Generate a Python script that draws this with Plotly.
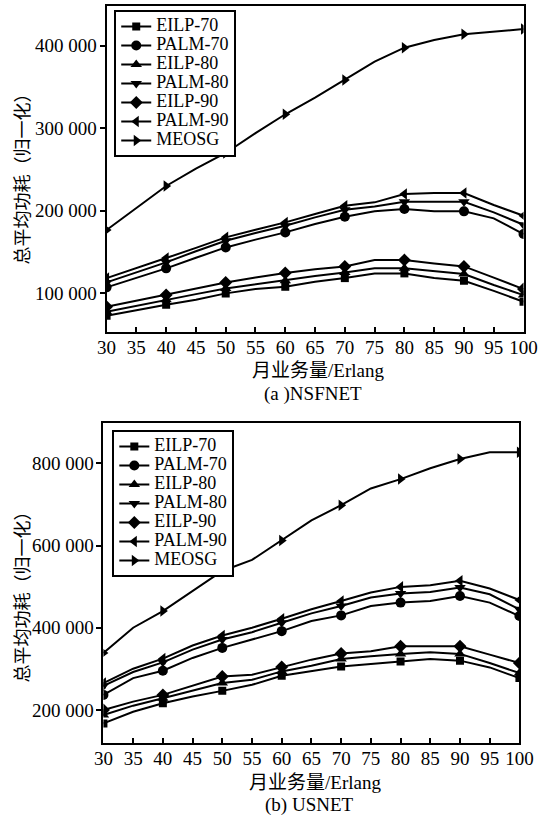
import plotly.graph_objects as go

# ---------------- data ----------------
X = [30, 35, 40, 45, 50, 55, 60, 65, 70, 75, 80, 85, 90, 95, 100]
MARKED_X = [30, 40, 50, 60, 70, 80, 90, 100]
SERIES = ["EILP-70", "PALM-70", "EILP-80", "PALM-80", "EILP-90", "PALM-90", "MEOSG"]
SYMBOLS = ["square", "circle", "triangle-up", "triangle-down", "diamond", "triangle-left", "triangle-right"]
SIZES = [8, 10, 10, 10, 10, 10, 10]

# (a) NSFNET
NSF_EILP70 = [72700, 79600, 86100, 92100, 99900, 105100, 107900, 113900, 118400, 124100, 124100, 118400, 115200, 103000, 89700]
NSF_PALM70 = [107200, 119000, 130200, 143000, 155600, 165000, 173800, 184000, 192700, 199300, 202100, 199300, 199300, 190800, 171800]
NSF_EILP80 = [77600, 85000, 92100, 99000, 105900, 111000, 115200, 121000, 125300, 130200, 130200, 127000, 123300, 110000, 97800]
NSF_PALM80 = [113200, 125000, 137500, 151000, 163600, 173000, 181800, 192000, 201200, 205300, 210900, 210900, 210900, 198000, 183000]
NSF_EILP90 = [83600, 91000, 97800, 106000, 113200, 119000, 124500, 129000, 132600, 140200, 140200, 136000, 132600, 119000, 105100]
NSF_PALM90 = [118400, 131000, 142700, 155000, 167800, 177000, 185900, 196000, 206100, 210200, 220200, 221400, 221400, 207000, 193900]
NSF_MEOSG = [176600, 203000, 230000, 251000, 270000, 294000, 316900, 337000, 358400, 380600, 397600, 406900, 413800, 417000, 420200]

# (b) USNET
US_EILP70 = [167400, 195800, 216400, 232600, 246500, 261200, 283200, 293800, 306000, 311900, 318200, 324100, 320000, 303500, 277600]
US_PALM70 = [236700, 277600, 295500, 326600, 351000, 371400, 391700, 416200, 430100, 452900, 461200, 465100, 477400, 461200, 428400]
US_EILP80 = [187800, 210500, 228600, 246500, 265400, 273400, 293800, 307700, 324100, 330500, 336400, 340300, 336400, 314300, 289800]
US_PALM80 = [258800, 292300, 315800, 346900, 371400, 389200, 412200, 435000, 452900, 473400, 483200, 487100, 497900, 481500, 444800]
US_EILP90 = [200000, 220300, 236700, 258800, 281500, 285700, 304500, 322400, 337100, 342700, 355000, 355000, 355000, 334600, 314300]
US_PALM90 = [265400, 300400, 324900, 356700, 381200, 400000, 422000, 444800, 465100, 485700, 499400, 503600, 514100, 495500, 467600]
US_MEOSG = [338800, 400000, 440600, 490000, 538000, 565000, 612300, 661200, 698000, 738800, 761600, 787800, 810500, 826900, 826900]

NSF_DATA = [NSF_EILP70, NSF_PALM70, NSF_EILP80, NSF_PALM80, NSF_EILP90, NSF_PALM90, NSF_MEOSG]
US_DATA = [US_EILP70, US_PALM70, US_EILP80, US_PALM80, US_EILP90, US_PALM90, US_MEOSG]

X_TICKS = X
NSF_YTICKS = [100000, 200000, 300000, 400000]
NSF_YTICKTEXT = ["100 000", "200 000", "300 000", "400 000"]
US_YTICKS = [200000, 400000, 600000, 800000]
US_YTICKTEXT = ["200 000", "400 000", "600 000", "800 000"]

Y_TITLE = "总平均功耗（归一化）"
X_TITLE = "月业务量/Erlang"
SUB_A = "(a )NSFNET"
SUB_B = "(b) USNET"

# ---------------- figure ----------------
W, H = 549, 824
FONT = "Liberation Serif, Noto Sans CJK SC, serif"
fig = go.Figure()


def add_panel(data, xaxis, yaxis, legend):
    for name, sym, sz, vals in zip(SERIES, SYMBOLS, SIZES, data):
        fig.add_trace(go.Scatter(
            x=X, y=vals, mode="lines", xaxis=xaxis, yaxis=yaxis,
            line=dict(color="black", width=2), showlegend=False, hoverinfo="skip"))
        ym = [v if x in MARKED_X else None for x, v in zip(X, vals)]
        fig.add_trace(go.Scatter(
            x=X, y=ym, mode="lines+markers", xaxis=xaxis, yaxis=yaxis,
            name='<span style="font-size:18px">' + name + '</span>',
            connectgaps=False, legend=legend,
            line=dict(color="black", width=2),
            marker=dict(symbol=sym, size=sz, color="black")))


add_panel(NSF_DATA, "x", "y", "legend")
add_panel(US_DATA, "x2", "y2", "legend2")

axis_common = dict(showline=True, linecolor="black", linewidth=2, mirror=True,
                   showgrid=False, zeroline=False,
                   tickfont=dict(family=FONT, size=19, color="black"),
                   tickcolor="black", tickwidth=1.5)

fig.update_layout(
    width=W, height=H, margin=dict(l=0, r=0, t=0, b=0),
    paper_bgcolor="white", plot_bgcolor="white",
    font=dict(family=FONT, color="black"),
    xaxis=dict(domain=[101 / W, 537 / W], range=[30, 100], anchor="y",
               tickvals=X_TICKS, ticks="inside", ticklen=5, ticklabelstandoff=-3,
               **axis_common),
    yaxis=dict(domain=[1 - 332 / H, 1 - 6 / H], range=[53100, 448100], anchor="x",
               tickvals=NSF_YTICKS, ticktext=NSF_YTICKTEXT, ticks="outside", ticklen=5,
               ticklabelstandoff=-1, **axis_common),
    xaxis2=dict(domain=[97.7 / W, 532.7 / W], range=[30, 100], anchor="y2",
                tickvals=X_TICKS, ticks="inside", ticklen=5, ticklabelstandoff=-3,
                **axis_common),
    yaxis2=dict(domain=[1 - 742.7 / H, 1 - 423.3 / H], range=[120400, 897300], anchor="x2",
                tickvals=US_YTICKS, ticktext=US_YTICKTEXT, ticks="outside", ticklen=5,
                ticklabelstandoff=-1, **axis_common),
    legend=dict(x=109 / W, y=1 - 10 / H, xanchor="left", yanchor="top",
                bgcolor="white", bordercolor="black", borderwidth=2,
                font=dict(family=FONT, size=11, color="black"), itemwidth=30,
                tracegroupgap=0),
    legend2=dict(x=107 / W, y=1 - 430 / H, xanchor="left", yanchor="top",
                 bgcolor="white", bordercolor="black", borderwidth=2,
                 font=dict(family=FONT, size=11, color="black"), itemwidth=30,
                 tracegroupgap=0),
)

ann_font = dict(family=FONT, size=19, color="black")
cjk_font = dict(family="Noto Sans CJK SC, Liberation Serif", size=18, color="black")
annotations = [
    dict(text=Y_TITLE, x=12 / W, y=1 - 174 / H, textangle=-90, font=cjk_font),
    dict(text=X_TITLE, x=322 / W, y=1 - 370 / H, font=ann_font),
    dict(text=SUB_A, x=317 / W, y=1 - 394 / H, font=ann_font),
    dict(text=Y_TITLE, x=12 / W, y=1 - 592 / H, textangle=-90, font=cjk_font),
    dict(text=X_TITLE, x=319 / W, y=1 - 782 / H, font=ann_font),
    dict(text=SUB_B, x=313 / W, y=1 - 805 / H, font=ann_font),
]
for a in annotations:
    fig.add_annotation(xref="paper", yref="paper", showarrow=False,
                       xanchor="center", yanchor="middle", **a)

fig.write_html("out.html")
